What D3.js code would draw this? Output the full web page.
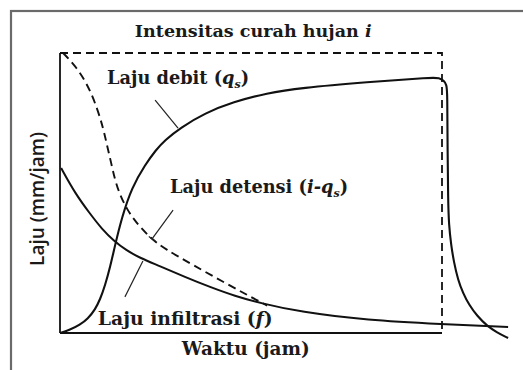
<!DOCTYPE html>
<html>
<head>
<meta charset="utf-8">
<script src="https://cdn.jsdelivr.net/npm/d3@7"></script>
<style>
  html, body { margin: 0; padding: 0; background: #fff; }
  svg { display: block; }
  .lbl { font-family: "DejaVu Serif", "Liberation Serif", serif; font-weight: bold; fill: #1a1a1a; }
</style>
</head>
<body>
<svg id="chart" width="523" height="370"></svg>
<script>
// ---- Data (time in hours, rate in mm/jam; schematic values) ----
const rainIntensity = 10;      // i
const rainDuration = 10;       // rain stops at t = 10

const debitT = [0, 0.26, 0.52, 0.73, 0.92, 1.05, 1.18, 1.31, 1.44, 1.62, 1.88, 2.23, 2.51, 2.75, 3.14, 3.80, 4.53, 5.42, 6.28, 8.04, 9.76, 9.92, 10.05, 10.12, 10.14, 10.145, 10.16, 10.18, 10.24, 10.31, 10.42, 10.55, 10.71, 10.92, 11.18, 11.44, 11.73];
const debitQ = [0, 0.11, 0.29, 0.51, 0.84, 1.20, 1.70, 2.34, 3.13, 4.13, 5.20, 6.01, 6.54, 6.89, 7.32, 7.86, 8.25, 8.57, 8.75, 8.96, 9.13, 9.11, 9.02, 8.86, 8.61, 6.54, 4.75, 3.86, 3.14, 2.54, 1.89, 1.43, 1.00, 0.61, 0.25, 0.02, -0.18];

const infilT = [0.03, 0.39, 0.79, 1.10, 1.41, 1.73, 2.09, 2.62, 3.27, 3.93, 4.58, 5.24, 6.28, 8.04, 10.0, 11.73];
const infilF = [5.89, 5.00, 4.25, 3.71, 3.29, 2.96, 2.68, 2.39, 2.00, 1.64, 1.32, 1.07, 0.75, 0.46, 0.32, 0.21];

const detT = [0.08, 0.39, 0.73, 0.97, 1.13, 1.23, 1.34, 1.44, 1.57, 1.75, 1.96, 2.36, 2.75, 3.48, 4.37, 5.24, 5.42];
const detV = [10.0, 9.57, 8.86, 8.04, 7.32, 6.71, 6.07, 5.46, 4.93, 4.43, 4.00, 3.39, 3.00, 2.43, 1.75, 1.11, 0.98];

// ---- Layout ----
const svg = d3.select("#chart");
const x = d3.scaleLinear().domain([0, 10]).range([60, 442]);
const y = d3.scaleLinear().domain([0, 10]).range([333, 53]);

// outer frame
svg.append("rect").attr("x", 11).attr("y", 11).attr("width", 600).attr("height", 400)
  .attr("fill", "none").attr("stroke", "#6a6a6a").attr("stroke-width", 2.2);

// axes (left and bottom lines)
svg.append("line").attr("x1", x(0)).attr("x2", x(0)).attr("y1", y(0)).attr("y2", y(rainIntensity))
  .attr("stroke", "#111").attr("stroke-width", 1.8);
svg.append("line").attr("x1", x(0)).attr("x2", x(rainDuration)).attr("y1", y(0)).attr("y2", y(0))
  .attr("stroke", "#111").attr("stroke-width", 1.8);

// rain intensity (dashed)
svg.append("path")
  .attr("d", d3.line()([[x(0), y(rainIntensity)], [x(rainDuration), y(rainIntensity)], [x(rainDuration), y(0)]]))
  .attr("fill", "none").attr("stroke", "#111").attr("stroke-width", 1.8).attr("stroke-dasharray", "8,5");

const line = d3.line().x(d => x(d[0])).y(d => y(d[1])).curve(d3.curveBasis);

// detention (dashed)
svg.append("path").attr("d", line(d3.zip(detT, detV)))
  .attr("fill", "none").attr("stroke", "#111").attr("stroke-width", 1.9).attr("stroke-dasharray", "8,5");

// infiltration
svg.append("path").attr("d", line(d3.zip(infilT, infilF)))
  .attr("fill", "none").attr("stroke", "#111").attr("stroke-width", 2);

// debit
svg.append("path").attr("d", line(d3.zip(debitT, debitQ)))
  .attr("fill", "none").attr("stroke", "#111").attr("stroke-width", 2.1);

// leader lines
const leaders = [
  {from: [2.49, 8.32], to: [3.09, 7.32], tick: false},
  {from: [2.96, 4.39], to: [2.41, 3.36], tick: true},
  {from: [1.70, 1.29], to: [2.17, 2.57], tick: false}
];
leaders.forEach(l => {
  const x1 = x(l.from[0]), y1 = y(l.from[1]), x2 = x(l.to[0]), y2 = y(l.to[1]);
  svg.append("line").attr("x1", x1).attr("y1", y1).attr("x2", x2).attr("y2", y2)
    .attr("stroke", "#222").attr("stroke-width", 1.2);
  if (l.tick) {
    const dx = x2 - x1, dy = y2 - y1, len = Math.hypot(dx, dy);
    const px = -dy / len * 4, py = dx / len * 4;
    svg.append("line").attr("x1", x2 - px).attr("y1", y2 - py).attr("x2", x2 + px).attr("y2", y2 + py)
      .attr("stroke", "#222").attr("stroke-width", 1.2);
  }
});

// ---- Text ----
function addLabel(tx, ty, parts, targetW) {
  const base = 16;
  const t = svg.append("text").attr("class", "lbl").attr("x", x(tx)).attr("y", y(ty)).attr("font-size", base);
  const spans = [];
  parts.forEach(p => {
    const s = t.append("tspan").text(p.t);
    if (p.i) s.attr("font-style", "italic");
    spans.push([s, p]);
  });
  const w = t.node().getComputedTextLength();
  const size = base * targetW / w;
  t.attr("font-size", size);
  spans.forEach(([s, p]) => {
    if (p.sub) s.attr("font-size", size * 0.62).attr("dy", 3.5);
    if (p.up) s.attr("dy", -3.5);
  });
  return t;
}
addLabel(1.96, 10.57, [{t: "Intensitas curah hujan "}, {t: "i", i: true}], 237);
addLabel(1.23, 8.89, [{t: "Laju debit ("}, {t: "q", i: true}, {t: "s", i: true, sub: true}, {t: ")", up: true}], 146);
addLabel(2.88, 5.00, [{t: "Laju detensi ("}, {t: "i-q", i: true}, {t: "s", i: true, sub: true}, {t: ")", up: true}], 182);
addLabel(0.99, 0.29, [{t: "Laju infiltrasi ("}, {t: "f", i: true}, {t: ")"}], 175);
addLabel(3.19, -0.79, [{t: "Waktu (jam)"}], 128);

svg.append("text")
  .attr("transform", `translate(44, ${(y(0) + y(rainIntensity)) / 2 + 6}) rotate(-90)`)
  .attr("text-anchor", "middle")
  .attr("font-family", "'Open Sans', 'Liberation Sans', sans-serif")
  .attr("font-weight", 600)
  .attr("font-size", 19)
  .attr("fill", "#1a1a1a")
  .text("Laju (mm/jam)");
</script>
</body>
</html>
